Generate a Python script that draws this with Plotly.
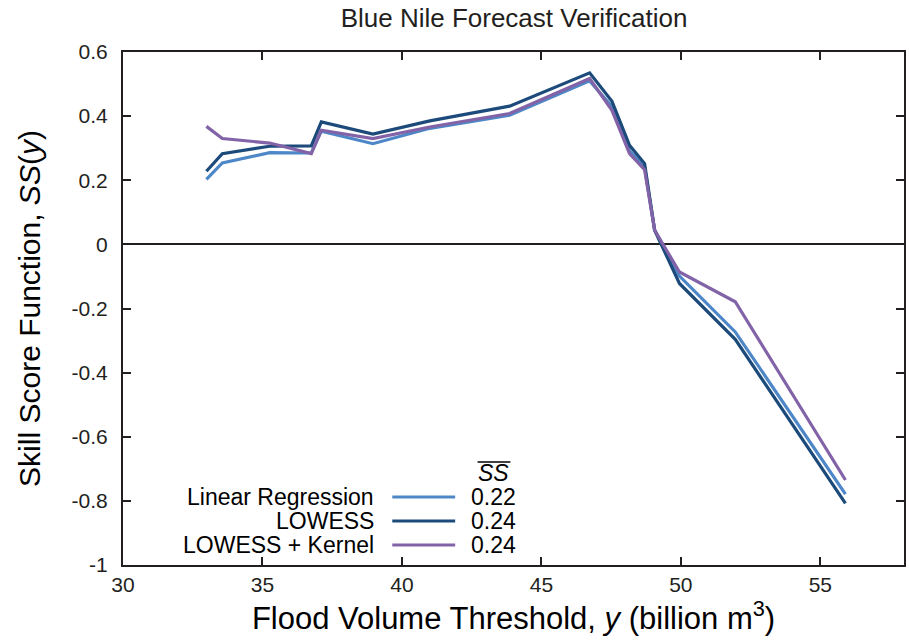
import plotly.graph_objects as go

# Data
threshold = [32.99, 33.56, 35.26, 36.75, 37.11, 38.96, 41.0, 43.86, 46.73, 47.53, 48.16, 48.7, 49.06, 49.95, 51.95, 55.9]
ss_linear = [0.203, 0.254, 0.286, 0.285, 0.353, 0.314, 0.362, 0.403, 0.510, 0.430, 0.292, 0.240, 0.045, -0.099, -0.273, -0.779]
ss_lowess = [0.228, 0.283, 0.306, 0.307, 0.382, 0.344, 0.385, 0.431, 0.535, 0.446, 0.309, 0.252, 0.044, -0.122, -0.296, -0.808]
ss_kernel = [0.368, 0.330, 0.316, 0.283, 0.356, 0.330, 0.366, 0.408, 0.517, 0.418, 0.283, 0.233, 0.044, -0.086, -0.179, -0.735]

series_names = ["Linear Regression", "LOWESS", "LOWESS + Kernel"]
series_means = ["0.22", "0.24", "0.24"]
colors = ["#4D87C7", "#1C4A7B", "#8263A7"]

x_ticks = [30, 35, 40, 45, 50, 55]
y_ticks = [0.6, 0.4, 0.2, 0, -0.2, -0.4, -0.6, -0.8, -1]
y_ticktext = ["0.6", "0.4", "0.2", "0", "-0.2", "-0.4", "-0.6", "-0.8", "-1"]

FONT = "Liberation Sans, Arial, sans-serif"
TXT = "#231f20"

fig = go.Figure()
for ys, name, c in zip([ss_linear, ss_lowess, ss_kernel], series_names, colors):
    fig.add_trace(go.Scatter(x=threshold, y=ys, mode="lines", name=name,
                             line=dict(color=c, width=3.2), showlegend=False))

# custom legend (text, sample line, value)
row_y = [0.1326, 0.0858, 0.039]
annotations = []
shapes = []
for ry, name, val, c in zip(row_y, series_names, series_means, colors):
    annotations.append(dict(x=0.3244, y=ry, xref="paper", yref="paper", text=name,
                            showarrow=False, xanchor="right", yanchor="middle",
                            font=dict(family=FONT, size=23, color="black")))
    annotations.append(dict(x=0.4430, y=ry, xref="paper", yref="paper", text=val,
                            showarrow=False, xanchor="left", yanchor="middle",
                            font=dict(family=FONT, size=23, color="black")))
    shapes.append(dict(type="line", xref="paper", yref="paper", x0=0.3448, x1=0.4253,
                       y0=ry, y1=ry, line=dict(color=c, width=3.2)))
annotations.append(dict(x=0.4745, y=0.1784, xref="paper", yref="paper", text="<i>SS</i>",
                        showarrow=False, xanchor="center", yanchor="middle",
                        font=dict(family=FONT, size=23, color="black")))
shapes.append(dict(type="line", xref="paper", yref="paper", x0=0.454, x1=0.496,
                   y0=0.201, y1=0.201, line=dict(color="black", width=1.5)))

fig.update_layout(
    width=909, height=641,
    margin=dict(l=123, r=3, t=52, b=76),
    paper_bgcolor="white", plot_bgcolor="white",
    font=dict(family=FONT, size=21, color=TXT),
    title=dict(text="Blue Nile Forecast Verification", x=0.5655, xanchor="center",
               y=0.972, yanchor="middle", font=dict(family=FONT, size=26, color=TXT)),
    annotations=annotations, shapes=shapes,
    xaxis=dict(range=[30, 58], tickvals=x_ticks, ticks="inside", ticklen=8, tickwidth=1.5,
               tickcolor="#231f20", showline=True, linecolor="#231f20", linewidth=2,
               mirror="ticks", showgrid=False, zeroline=False,
               tickfont=dict(family=FONT, size=21, color=TXT),
               title=dict(text="Flood Volume Threshold, <i>y</i> (billion m<sup>3</sup>)",
                          font=dict(family=FONT, size=31, color="black"), standoff=11)),
    yaxis=dict(range=[-1, 0.6], tickvals=y_ticks, ticktext=y_ticktext, ticks="inside",
               ticklen=8, tickwidth=1.5, tickcolor="#231f20", showline=True,
               linecolor="#231f20", linewidth=2, mirror="ticks", showgrid=False,
               zeroline=True, zerolinecolor="#231f20", zerolinewidth=1.5,
               ticklabelstandoff=9,
               tickfont=dict(family=FONT, size=21, color=TXT),
               title=dict(text="Skill Score Function, <i>SS</i>(<i>y</i>)",
                          font=dict(family=FONT, size=30, color="black"), standoff=22)),
)

fig.write_html("out.html")
